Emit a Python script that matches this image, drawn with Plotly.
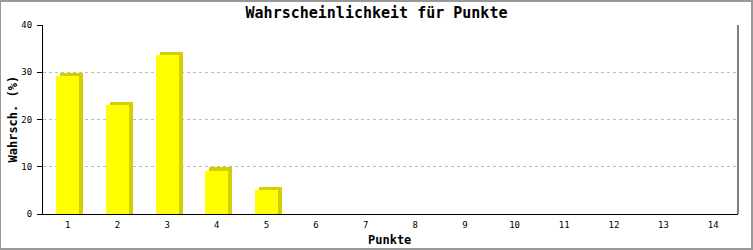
import plotly.graph_objects as go

categories = [str(i) for i in range(1, 15)]
values = [29.2, 23.0, 33.6, 9.2, 5.1, 0, 0, 0, 0, 0, 0, 0, 0, 0]
y_ticks = [0, 10, 20, 30, 40]

title = "Wahrscheinlichkeit für Punkte"
x_title = "Punkte"
y_title = "Wahrsch. (%)"

FONT = "DejaVu Sans Mono"
bar_w = 0.46
shadow_dx = 0.08
shadow_dy = 0.65

W, H = 753, 250
L, R, T, B = 43, 15, 25, 36
PW, PH = W - L - R, H - T - B

xs = list(range(len(categories)))
shown = [i for i, v in enumerate(values) if v > 0]

fig = go.Figure()
# shadow
fig.add_trace(go.Bar(
    x=[xs[i] for i in shown], y=[values[i] + shadow_dy for i in shown],
    width=bar_w, offset=-bar_w / 2 + shadow_dx,
    marker=dict(color="#D2D000", line=dict(width=0)),
    hoverinfo="skip", showlegend=False,
))
# front
fig.add_trace(go.Bar(
    x=[xs[i] for i in shown], y=[values[i] for i in shown],
    width=bar_w, offset=-bar_w / 2,
    marker=dict(color="#FFFF00", line=dict(width=0)),
    showlegend=False,
))

fig.update_layout(
    width=W, height=H,
    margin=dict(l=L, r=R, t=T, b=B, autoexpand=False),
    barmode="overlay",
    paper_bgcolor="white", plot_bgcolor="white",
    title=dict(text=title, x=0.5, xanchor="center", y=1 - 13 / H, yanchor="middle",
               automargin=False,
               font=dict(family=FONT, size=15, color="black", weight="bold")),
    xaxis=dict(
        range=[-0.5, len(categories) - 0.5], automargin=False,
        tickmode="array", tickvals=xs, ticktext=categories,
        tickfont=dict(family=FONT, size=9, color="black"),
        showgrid=False, showline=True, linecolor="black", linewidth=1,
        ticks="", zeroline=False, mirror=False,
        ticklabelstandoff=2,
    ),
    yaxis=dict(
        range=[0, 40], tickmode="array", tickvals=y_ticks, automargin=False,
        tickfont=dict(family=FONT, size=9, color="black"),
        showgrid=True, gridcolor="#BBBBBB", griddash="dot", gridwidth=1,
        showline=True, linecolor="black", linewidth=1,
        ticks="outside", ticklen=5, tickcolor="black",
        ticklabelstandoff=3,
        zeroline=False,
    ),
    annotations=[
        dict(text=x_title, xref="paper", yref="paper", x=(389 - L) / PW,
             y=-(240 - T - PH) / PH, xanchor="center", yanchor="middle",
             showarrow=False,
             font=dict(family=FONT, size=12, color="black", weight="bold")),
        dict(text=y_title, xref="paper", yref="paper", x=(12 - L) / PW,
             y=0.5, xanchor="center", yanchor="middle", textangle=-90,
             showarrow=False,
             font=dict(family=FONT, size=12, color="black", weight="bold")),
    ],
    shapes=[
        dict(type="line", xref="paper", yref="paper", x0=1, x1=1, y0=0, y1=1,
             line=dict(color="black", width=1)),
        dict(type="rect", xref="paper", yref="paper",
             x0=-L / PW, x1=1 + (R - 1) / PW, y0=-(B - 1) / PH, y1=1 + (T - 1) / PH,
             line=dict(color="#999999", width=2)),
    ],
    bargap=0,
)

fig.write_html("out.html")
